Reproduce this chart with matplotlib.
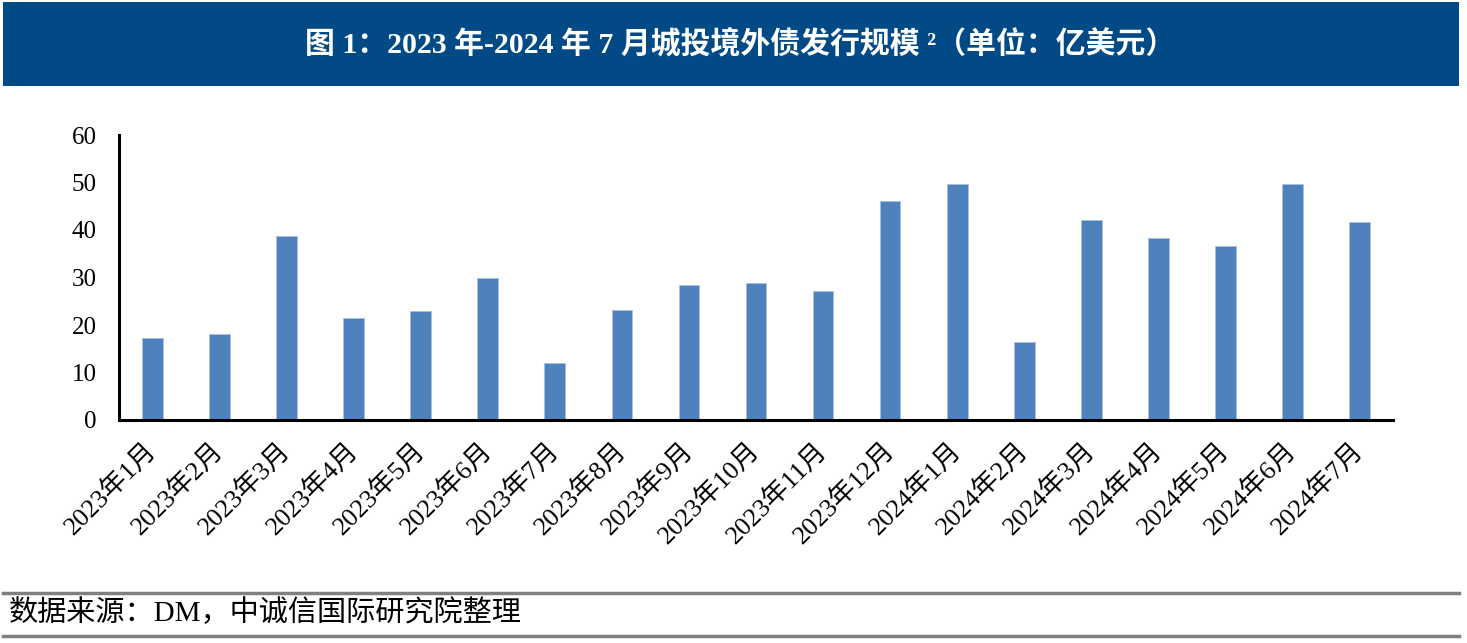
import matplotlib
matplotlib.use("Agg")
import matplotlib.pyplot as plt
from matplotlib.patches import Rectangle
from matplotlib.lines import Line2D

months = ["2023年1月", "2023年2月", "2023年3月", "2023年4月", "2023年5月",
          "2023年6月", "2023年7月", "2023年8月", "2023年9月", "2023年10月",
          "2023年11月", "2023年12月", "2024年1月", "2024年2月", "2024年3月",
          "2024年4月", "2024年5月", "2024年6月", "2024年7月"]
issuance = [17.2, 18.2, 38.7, 21.5, 22.9, 29.9, 12.0, 23.2, 28.4, 28.8,
            27.2, 46.1, 49.7, 16.4, 42.1, 38.3, 36.6, 49.6, 41.6]
yticks = [0, 10, 20, 30, 40, 50, 60]

title = "图 1：2023 年-2024 年 7 月城投境外债发行规模 ²（单位：亿美元）"
source = "数据来源：DM，中诚信国际研究院整理"

fonts = ['Liberation Serif', 'Noto Sans CJK SC', 'DejaVu Sans']
plt.rcParams['font.family'] = fonts

W, H = 1467, 643
fig = plt.figure(figsize=(W / 100, H / 100), dpi=100)

# title banner
fig.patches.append(Rectangle((3 / W, 1 - 86 / H), 1456 / W, 84 / H,
                             transform=fig.transFigure, facecolor='#024a85',
                             edgecolor='none', zorder=0))
fig.text(740 / W, 1 - 45 / H, title, color='white', fontsize=21.5,
         fontweight='bold', ha='center', va='center')

ax = fig.add_axes([119 / W, 1 - 420 / H, (1393 - 119) / W, (420 - 135) / H])
x = range(len(months))
ax.bar(x, issuance, width=0.31, color='#4f81bd', edgecolor='#a9c1e0', linewidth=0.6)
ax.set_xlim(-0.5, len(months) - 0.5)
ax.set_ylim(0, 60)
ax.set_yticks(yticks)
ax.set_xticks(list(x))
ax.set_xticklabels(months, rotation=45, ha='right', va='center',
                   rotation_mode='anchor', fontsize=19)
ax.tick_params(axis='y', length=0, pad=16, labelsize=18)
ax.tick_params(axis='x', length=0, pad=19)
for s in ['top', 'right']:
    ax.spines[s].set_visible(False)
for s in ['left', 'bottom']:
    ax.spines[s].set_linewidth(2.2)
    ax.spines[s].set_color('black')

# footer
fig.add_artist(Line2D([3 / W, 1459 / W], [1 - 593 / H, 1 - 593 / H],
                      transform=fig.transFigure, color='#808080', linewidth=2.5))
fig.add_artist(Line2D([3 / W, 1459 / W], [1 - 636 / H, 1 - 636 / H],
                      transform=fig.transFigure, color='#808080', linewidth=2.5))
fig.text(9 / W, 1 - 613 / H, source, fontsize=21, ha='left', va='center')

fig.savefig("out.png", dpi=100)
